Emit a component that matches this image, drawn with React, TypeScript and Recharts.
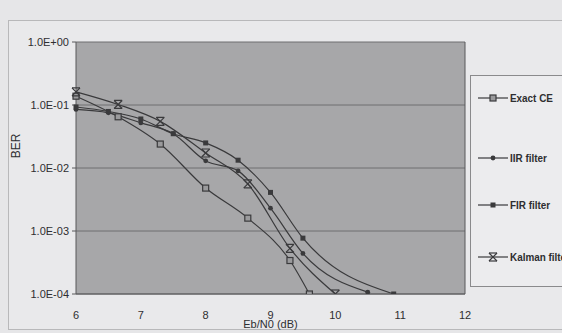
import { CartesianGrid, Label, Legend, Line, LineChart, ReferenceLine, XAxis, YAxis } from "recharts";

const xTicks = [6, 7, 8, 9, 10, 11, 12];
const yTicks = [1, 0.1, 0.01, 0.001, 0.0001];

const exactCeEbN0 = [6, 6.65, 7.3, 8, 8.65, 9.3, 9.6];
const exactCeBer = [0.138, 0.065, 0.024, 0.0048, 0.0016, 0.00034, 0.0001];

const iirEbN0 = [6, 6.5, 7, 7.5, 8, 8.5, 9, 9.5, 10.5];
const iirBer = [0.085, 0.075, 0.052, 0.035, 0.013, 0.009, 0.0023, 0.00044, 0.000107];

const firEbN0 = [6, 6.5, 7, 7.5, 8, 8.5, 9, 9.5, 10.9];
const firBer = [0.093, 0.079, 0.06, 0.035, 0.025, 0.0133, 0.0041, 0.00077, 0.0001];

const kalmanEbN0 = [6, 6.65, 7.3, 8, 8.65, 9.3, 10];
const kalmanBer = [0.162, 0.102, 0.055, 0.0173, 0.0056, 0.00053, 0.0001];

const ink = "#3a3a3c";
const font = "'Liberation Sans', Arial, sans-serif";

const toPoints = (xs: number[], ys: number[]) => xs.map((x, i) => ({ x, ber: ys[i] }));

function formatBer(v: number) {
  const e = Math.round(Math.log10(v));
  return `1.0E${e < 0 ? "-" : "+"}${String(Math.abs(e)).padStart(2, "0")}`;
}

type DotProps = { cx?: number; cy?: number };

function SquareDot({ cx = 0, cy = 0 }: DotProps) {
  return <rect x={cx - 3} y={cy - 3} width={6} height={6} fill="#9a9a9c" stroke={ink} strokeWidth={1.2} />;
}

function RoundDot({ cx = 0, cy = 0 }: DotProps) {
  return <circle cx={cx} cy={cy} r={2.4} fill={ink} />;
}

function SmallSquareDot({ cx = 0, cy = 0 }: DotProps) {
  return <rect x={cx - 2.5} y={cy - 2.5} width={5} height={5} fill={ink} />;
}

function StarDot({ cx = 0, cy = 0 }: DotProps) {
  return (
    <g stroke={ink} strokeWidth={1.2}>
      <line x1={cx - 4} y1={cy - 4} x2={cx + 4} y2={cy + 4} />
      <line x1={cx - 4} y1={cy + 4} x2={cx + 4} y2={cy - 4} />
      <line x1={cx - 4} y1={cy - 4} x2={cx + 4} y2={cy - 4} />
      <line x1={cx - 4} y1={cy + 4} x2={cx + 4} y2={cy + 4} />
    </g>
  );
}

const legendItems = [
  { name: "Exact CE", top: 98, Marker: SquareDot },
  { name: "IIR filter", top: 158, Marker: RoundDot },
  { name: "FIR filter", top: 205, Marker: SmallSquareDot },
  { name: "Kalman filter", top: 257, Marker: StarDot },
];

function ChartLegend() {
  return (
    <div
      style={{
        position: "absolute",
        left: 470,
        top: 75,
        width: 100,
        height: 210,
        border: "1px solid #8a8a8c",
        background: "#ececee",
      }}
    >
      {legendItems.map(({ name, top, Marker }) => (
        <div
          key={name}
          style={{ position: "absolute", left: 6, top: top - 75 - 8, display: "flex", alignItems: "center", whiteSpace: "nowrap" }}
        >
          <svg width={32} height={14}>
            <line x1={1} y1={7} x2={31} y2={7} stroke={ink} strokeWidth={1.2} />
            <Marker cx={16} cy={7} />
          </svg>
          <span
            style={{
              fontFamily: font,
              fontWeight: "bold",
              fontSize: 11,
              color: "#2e2e30",
              marginLeft: 1,
              display: "inline-block",
              transform: "scaleX(0.9)",
              transformOrigin: "left center",
            }}
          >
            {name}
          </span>
        </div>
      ))}
    </div>
  );
}

export default function App() {
  const tick = { fill: "#2e2e30", fontSize: 11, fontFamily: font };
  return (
    <div style={{ position: "fixed", left: 0, top: 0, width: 562, height: 333, background: "#e6e6e8", overflow: "hidden" }}>
      <div
        style={{
          position: "absolute",
          left: 8,
          top: 20,
          width: 570,
          height: 308,
          border: "1px solid #b8b8ba",
          background: "#e9e9eb",
        }}
      />
      <div style={{ position: "absolute", left: 0, top: 0 }}>
        <LineChart width={562} height={333} margin={{ top: 42, right: 97, bottom: 14, left: 8 }}>
          <CartesianGrid vertical={false} stroke="#6e6e70" fill="#a7a7a9" />
          <XAxis
            type="number"
            dataKey="x"
            domain={[6, 12]}
            ticks={xTicks}
            allowDuplicatedCategory={false}
            tickLine={false}
            axisLine={{ stroke: "#58585a" }}
            tickMargin={11}
            tick={tick}
            height={25}
          >
            <Label value="Eb/N0 (dB)" position="bottom" offset={1} style={{ fill: "#2e2e30", fontSize: 11, fontFamily: font }} />
          </XAxis>
          <YAxis
            type="number"
            scale="log"
            domain={[0.0001, 1]}
            ticks={yTicks}
            allowDataOverflow
            tickFormatter={formatBer}
            width={68}
            tickSize={4}
            tickMargin={3}
            tickLine={{ stroke: "#58585a" }}
            axisLine={{ stroke: "#58585a" }}
            tick={tick}
          >
            <Label
              value="BER"
              angle={-90}
              position="insideLeft"
              offset={8}
              dy={-22}
              style={{ fill: "#2e2e30", fontSize: 12, fontFamily: font, textAnchor: "middle" }}
            />
          </YAxis>
          <ReferenceLine x={12} stroke="#58585a" />
          <Line
            data={toPoints(exactCeEbN0, exactCeBer)}
            dataKey="ber"
            name="Exact CE"
            type="monotone"
            stroke={ink}
            strokeWidth={1.2}
            dot={<SquareDot />}
            isAnimationActive={false}
          />
          <Line
            data={toPoints(iirEbN0, iirBer)}
            dataKey="ber"
            name="IIR filter"
            type="monotone"
            stroke={ink}
            strokeWidth={1.2}
            dot={<RoundDot />}
            isAnimationActive={false}
          />
          <Line
            data={toPoints(firEbN0, firBer)}
            dataKey="ber"
            name="FIR filter"
            type="monotone"
            stroke={ink}
            strokeWidth={1.2}
            dot={<SmallSquareDot />}
            isAnimationActive={false}
          />
          <Line
            data={toPoints(kalmanEbN0, kalmanBer)}
            dataKey="ber"
            name="Kalman filter"
            type="monotone"
            stroke={ink}
            strokeWidth={1.2}
            dot={<StarDot />}
            isAnimationActive={false}
          />
          <Legend content={() => null} />
        </LineChart>
      </div>
      <ChartLegend />
    </div>
  );
}
